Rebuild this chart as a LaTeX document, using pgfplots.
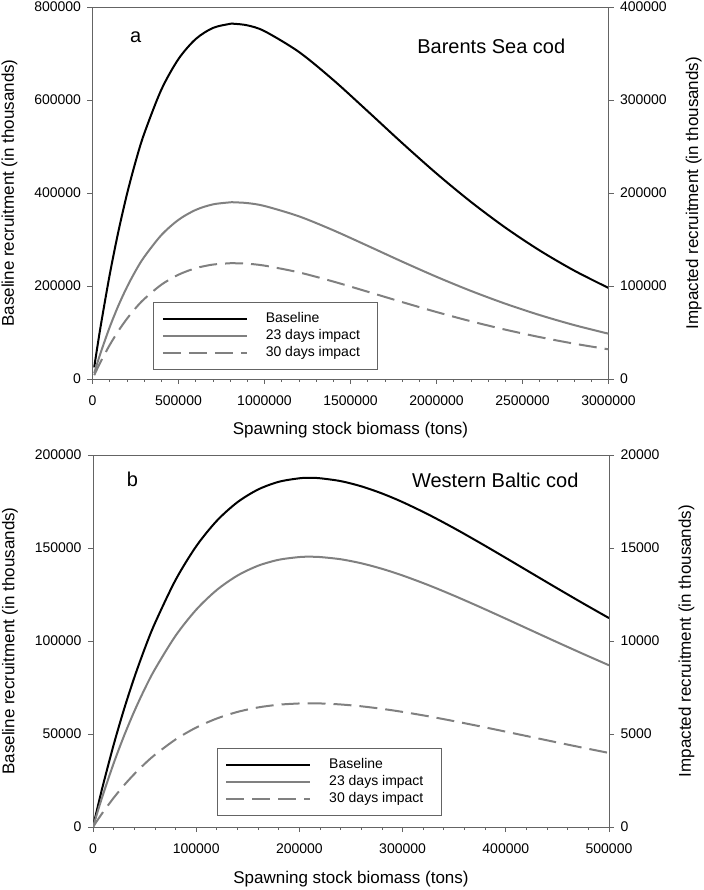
\documentclass[border=0pt]{standalone}
\usepackage{fontspec}
\setmainfont{Liberation Sans}
\usepackage{pgfplots}
\pgfplotsset{compat=1.18}
\setlength{\parindent}{0pt}
\definecolor{axgray}{RGB}{100,100,100}
\definecolor{curvegray}{RGB}{128,128,128}
\newcommand{\lt}[1]{\makebox[102bp][l]{#1}}
\pgfplotsset{
  common/.style={
    scale only axis, width=516bp, height=372bp,
    tick align=outside,
    major tick length=5bp, minor tick length=3bp,
    axis line style={axgray, line width=0.8bp},
    every tick/.style={axgray, line width=0.8bp},
    scaled ticks=false,
    tick label style={font=\fontsize{14bp}{16bp}\selectfont, /pgf/number format/fixed, /pgf/number format/1000 sep={}, /pgf/number format/assume math mode=true},
    xticklabel shift=8bp, yticklabel shift=3bp,
    label style={font=\fontsize{17bp}{20bp}\selectfont},
  },
  base/.style={black, line width=2bp, smooth},
  d23/.style={curvegray, line width=2bp, smooth},
  d30/.style={curvegray, line width=2bp, smooth, dash pattern=on 18bp off 8bp},
  leg/.style={
    legend image code/.code={\draw[##1] (0bp,0bp) -- (84bp,0bp); \path (100bp,0bp);},
    legend style={at={(axis description cs:#1)}, anchor=north west, draw=axgray, line width=0.8bp, fill=white,
      font=\fontsize{14bp}{16bp}\selectfont,
      inner xsep=8bp, inner ysep=8bp, row sep=0bp, column sep=0bp,
      nodes={inner sep=2bp, text height=10bp, text depth=3bp, font=\fontsize{14bp}{16bp}\selectfont},
      cells={anchor=west}},
  },
}
\begin{document}
\begin{tikzpicture}
\useasboundingbox (0,0) rectangle (704bp,890bp);
% ---------------- Panel a ----------------
\begin{axis}[common, at={(92.5bp,511bp)}, anchor=south west,
  xmin=0, xmax=3000000, ymin=0, ymax=800000,
  xtick={0,500000,1000000,1500000,2000000,2500000,3000000},
  ytick={0,200000,400000,600000,800000},
  minor x tick num=4,
  xtick pos=bottom, ytick pos=left,
  xlabel={Spawning stock biomass (tons)},
  ylabel={Baseline recruitment (in thousands)},
  xlabel style={at={(axis description cs:0.5,-0.137)}, anchor=center},
  ylabel style={at={(axis description cs:-0.161,0.5)}, anchor=center},
]
\addplot[base] coordinates {
(10000,25020) (25000,61420) (50000,119140) (100000,224190) (150000,316390) (200000,396900)
(250000,466770) (300000,527000) (400000,621990) (500000,688220) (600000,731060) (700000,754970)
(800000,763770) (820000,764000) (900000,760590) (1000000,748080) (1200000,703400) (1400000,643020)
(1600000,575830) (1800000,507600) (2000000,441930) (2200000,380910) (2400000,325600)
(2600000,276380) (2800000,233230) (3000000,195800)};
\node[font=\fontsize{20bp}{24bp}\selectfont] at (axis cs:251600,735500) {a};
\node[font=\fontsize{20bp}{24bp}\selectfont] at (axis cs:2318400,714600) {Barents Sea cod};
\end{axis}
\begin{axis}[common, at={(92.5bp,511bp)}, anchor=south west,
  xmin=0, xmax=3000000, ymin=0, ymax=400000,
  axis x line=none, axis y line*=right,
  ytick={0,100000,200000,300000,400000},
  ylabel={Impacted recruitment (in thousands)},
  ylabel style={at={(axis description cs:1.165,0.5)}, anchor=center},
  leg={0.118,0.208},
]
\addlegendimage{base}
\addlegendentry{\lt{Baseline}}
\addplot[d23] coordinates {
(10000,6222) (25000,15274) (50000,29630) (100000,55754) (150000,78683) (200000,98705)
(250000,116082) (300000,131060) (400000,154682) (500000,171154) (600000,181807) (700000,187756)
(800000,189942) (820000,190000) (900000,189152) (1000000,186040) (1200000,174929) (1400000,159913)
(1600000,143203) (1800000,126234) (2000000,109903) (2200000,94728) (2400000,80973)
(2600000,68734) (2800000,58001) (3000000,48693)};
\addlegendentry{\lt{23 days impact}}
\addplot[d30] coordinates {
(10000,4077) (25000,10008) (50000,19415) (100000,36533) (150000,51558) (200000,64678)
(250000,76065) (300000,85879) (400000,101358) (500000,112151) (600000,119131) (700000,123029)
(800000,124462) (820000,124500) (900000,123945) (1000000,121905) (1200000,114625) (1400000,104785)
(1600000,93836) (1800000,82717) (2000000,72015) (2200000,62072) (2400000,53059)
(2600000,45039) (2800000,38006) (3000000,31907)};
\addlegendentry{\lt{30 days impact}}
\end{axis}
% ---------------- Panel b ----------------
\begin{axis}[common, at={(93bp,63bp)}, anchor=south west,
  xmin=0, xmax=500000, ymin=0, ymax=200000,
  xtick={0,100000,200000,300000,400000,500000},
  ytick={0,50000,100000,150000,200000},
  minor x tick num=4,
  xtick pos=bottom, ytick pos=left,
  xlabel={Spawning stock biomass (tons)},
  ylabel={Baseline recruitment (in thousands)},
  xlabel style={at={(axis description cs:0.5,-0.14)}, anchor=center},
  ylabel style={at={(axis description cs:-0.161,0.5)}, anchor=center},
]
\addplot[base] coordinates {
(0,0) (5000,11862) (10000,23166) (20000,44178) (30000,63186) (40000,80330) (50000,95743)
(60000,109549) (80000,132796) (100000,150915) (120000,164647) (140000,174638) (160000,181455)
(180000,185592) (200000,187480) (210000,187700) (220000,187494) (240000,185958) (260000,183153)
(280000,179324) (300000,174679) (325000,167997) (350000,160614) (375000,152773) (400000,144668)
(425000,136458) (450000,128269) (475000,120199) (500000,112326)};
\node[font=\fontsize{20bp}{24bp}\selectfont] at (axis cs:38200,186900) {b};
\node[font=\fontsize{20bp}{24bp}\selectfont] at (axis cs:389800,186200) {Western Baltic cod};
\end{axis}
\begin{axis}[common, at={(93bp,63bp)}, anchor=south west,
  xmin=0, xmax=500000, ymin=0, ymax=20000,
  axis x line=none, axis y line*=right,
  ytick={0,5000,10000,15000,20000},
  ylabel={Impacted recruitment (in thousands)},
  ylabel style={at={(axis description cs:1.15,0.5)}, anchor=center},
  leg={0.240,0.212},
]
\addlegendimage{base}
\addlegendentry{\lt{Baseline}}
\addplot[d23] coordinates {
(0,0) (5000,918) (10000,1793) (20000,3420) (30000,4891) (40000,6218) (50000,7412)
(60000,8480) (80000,10280) (100000,11682) (120000,12745) (140000,13519) (160000,14047)
(180000,14367) (200000,14513) (210000,14530) (220000,14514) (240000,14395) (260000,14178)
(280000,13882) (300000,13522) (325000,13005) (350000,12433) (375000,11826) (400000,11199)
(425000,10563) (450000,9929) (475000,9305) (500000,8695)};
\addlegendentry{\lt{23 days impact}}
\addplot[d30] coordinates {
(0,0) (5000,420) (10000,821) (20000,1565) (30000,2239) (40000,2846) (50000,3392)
(60000,3881) (80000,4705) (100000,5347) (120000,5833) (140000,6187) (160000,6429)
(180000,6575) (200000,6642) (210000,6650) (220000,6643) (240000,6588) (260000,6489)
(280000,6353) (300000,6189) (325000,5952) (350000,5690) (375000,5413) (400000,5125)
(425000,4835) (450000,4544) (475000,4259) (500000,3980)};
\addlegendentry{\lt{30 days impact}}
\end{axis}
\end{tikzpicture}
\end{document}
